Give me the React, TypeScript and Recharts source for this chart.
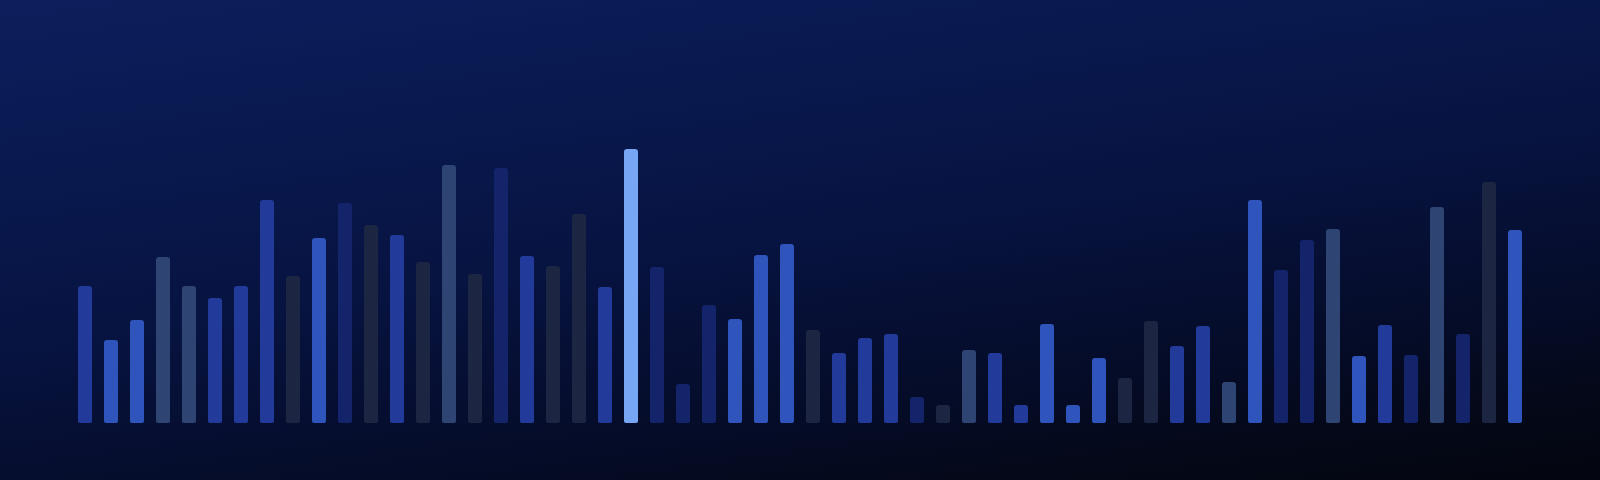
import { BarChart, Bar, XAxis, YAxis, Cell } from "recharts"

// one value per bar, left to right
const values = [
  137, 83, 103, 166, 137, 125, 137, 223, 147, 185, 220, 198, 188, 161,
  258, 149, 255, 167, 157, 209, 136, 274, 156, 39, 118, 104, 168, 179,
  93, 70, 85, 89, 26, 18, 73, 70, 18, 99, 18, 65, 45, 102,
  77, 97, 41, 223, 153, 183, 194, 67, 98, 68, 216, 89, 241, 193,
]

// series group of each bar
const groups = [
  "core", "bright", "bright", "slate", "slate", "core", "core", "core", "shadow", "bright", "navy", "shadow", "core", "shadow",
  "slate", "shadow", "navy", "core", "shadow", "shadow", "core", "peak", "navy", "navy", "navy", "bright", "bright", "bright",
  "shadow", "core", "core", "core", "navy", "shadow", "slate", "core", "core", "bright", "bright", "bright", "shadow", "shadow",
  "core", "core", "slate", "bright", "navy", "navy", "slate", "bright", "core", "navy", "slate", "navy", "shadow", "bright",
]

const groupColors: Record<string, string> = {
  core: "#223b9b",
  bright: "#2f54bb",
  slate: "#2e4574",
  shadow: "#1c2643",
  navy: "#13246a",
  peak: "#77a6f5",
}

const data = values.map((value, i) => ({ id: `b${i + 1}`, value, group: groups[i] }))

export default function App() {
  return (
    <div
      style={{
        width: 1600,
        height: 480,
        background:
          "linear-gradient(172deg, #0c1f5c 0%, #09194f 25%, #071340 50%, #050c28 75%, #040818 88%, #03060f 100%)",
      }}
    >
      <style>{"body{margin:0}"}</style>
      <BarChart
        width={1600}
        height={480}
        data={data}
        margin={{ top: 123, right: 72, bottom: 57, left: 72 }}
        barSize={14}
      >
        <XAxis dataKey="id" hide />
        <YAxis hide domain={[0, 300]} />
        <Bar dataKey="value" radius={[3, 3, 2, 2]} isAnimationActive={false}>
          {data.map((d) => (
            <Cell key={d.id} fill={groupColors[d.group]} />
          ))}
        </Bar>
      </BarChart>
    </div>
  )
}
